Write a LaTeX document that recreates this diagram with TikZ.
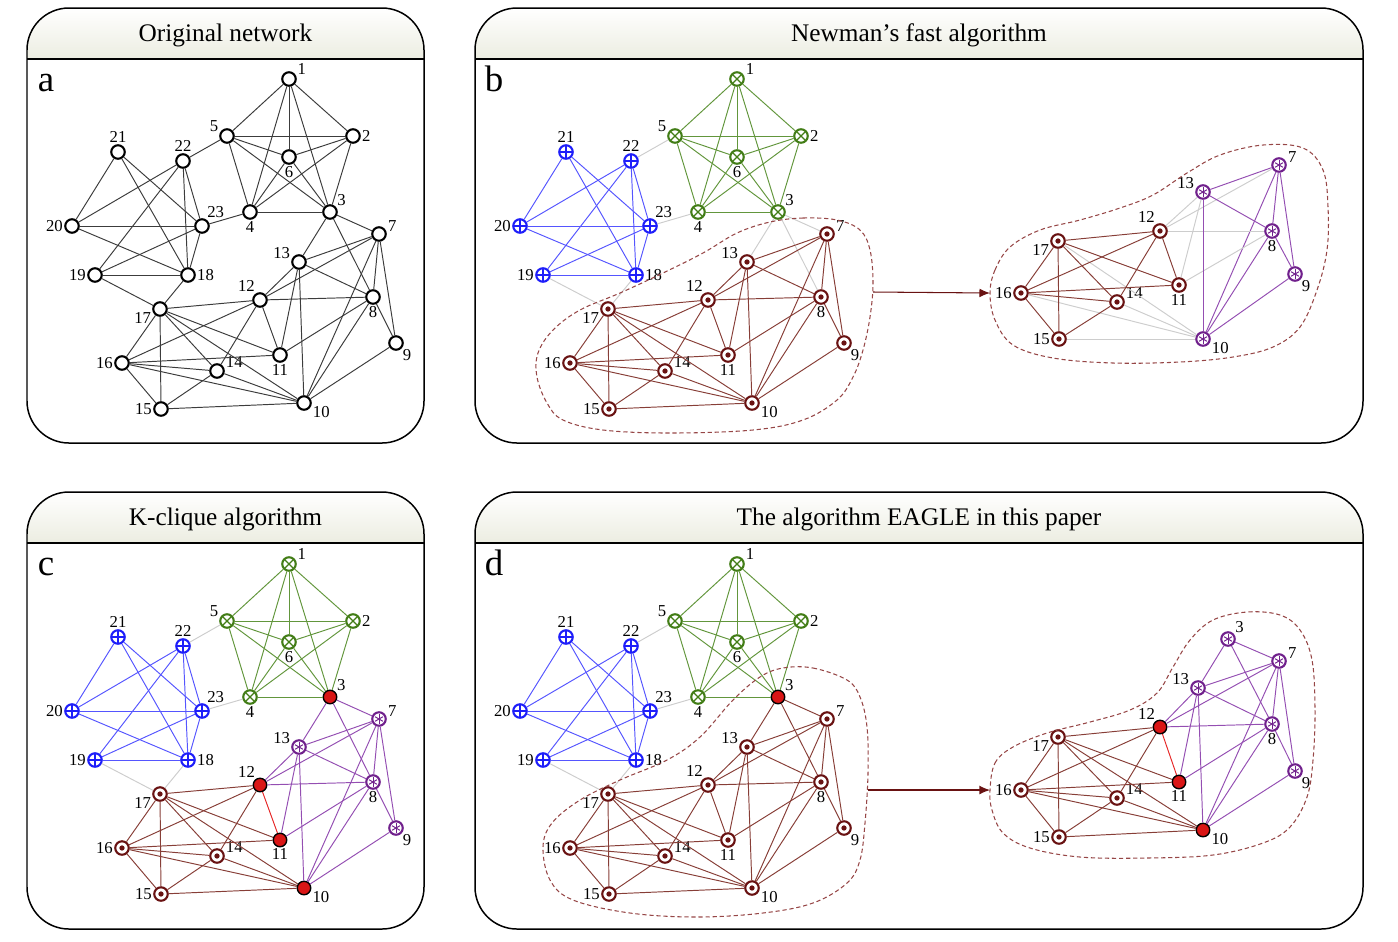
\documentclass[tikz,border=0pt]{standalone}
\usepackage{fontspec}
\setmainfont{Liberation Serif}
\usetikzlibrary{arrows.meta}

\definecolor{hdr}{RGB}{236,237,225}
\definecolor{n1}{RGB}{66,125,22}
\definecolor{n2}{RGB}{30,30,250}
\definecolor{n3}{RGB}{105,18,18}
\definecolor{n4}{RGB}{112,32,140}
\definecolor{n5}{RGB}{218,22,22}
\definecolor{e0}{RGB}{60,60,60}
\definecolor{e1}{RGB}{98,150,60}
\definecolor{e2}{RGB}{85,85,255}
\definecolor{e3}{RGB}{135,62,55}
\definecolor{e4}{RGB}{148,78,178}
\definecolor{e5}{RGB}{230,40,40}
\definecolor{e6}{RGB}{205,205,205}
\definecolor{blobc}{RGB}{150,70,70}

\begin{document}
\begin{tikzpicture}[x=0.02cm, y=-0.02cm,
    vtx/.style={circle, minimum size=0.27cm, inner sep=0pt, line width=1.2pt, fill=white, label distance=0.5pt},
    mk0/.style={vtx, draw=black, line width=1.2pt},
    mk1/.style={vtx, draw=n1, path picture={\draw[n1, line width=0.7pt] (path picture bounding box.north west) -- (path picture bounding box.south east) (path picture bounding box.north east) -- (path picture bounding box.south west);}},
    mk2/.style={vtx, draw=n2, path picture={\draw[n2, line width=0.7pt] (path picture bounding box.north) -- (path picture bounding box.south) (path picture bounding box.east) -- (path picture bounding box.west);}},
    mk3/.style={vtx, draw=n3, path picture={\fill[n3] (path picture bounding box.center) circle (1.5pt);}},
    mk4/.style={vtx, draw=n4, path picture={\foreach \q in {90,30,150} \draw[n4, line width=0.55pt] (path picture bounding box.center) ++(\q:2.6pt) -- ++(\q+180:5.2pt);}},
    mk5/.style={vtx, draw=black, fill=n5, line width=0.8pt},
    lbl/.style={font=\fontsize{9.5}{10}\selectfont, inner sep=0.6pt},
    link/.style={line width=0.55pt},
    box/.style={line width=0.85pt},
    blob/.style={blobc, dash pattern=on 2.4pt off 1.6pt, line width=0.6pt},
    ttl/.style={font=\fontsize{14.4}{16}\selectfont, anchor=base},
    letr/.style={font=\fontsize{21}{24}\selectfont, anchor=base},
    flow/.style={n3, line width=0.6pt, -{Latex[length=6pt,width=5pt]}}]
    \useasboundingbox (0,0) rectangle (1398,941);

    % Node positions: number/x/y/label angle
    \def\netpos{1/289/79/20, 2/353/136/0, 3/330/212/40, 4/250/212/-90, 5/227/136/160, 6/289/157/-90, 7/379/234/10, 8/373/297/-90, 9/396/343/-45, 10/304/403/-15, 11/280/355/-90, 12/260/300/120, 13/299/262/165, 14/217/371/15, 15/161/409/180, 16/122/363/180, 17/160/309/195, 18/188/275/0, 19/95/275/180, 20/72/226/180, 21/118/152/90, 22/183/161/90, 23/202/226/60}
    \def\subposb{7/1279/165/10, 8/1272/231/-90, 9/1295/274/-45, 10/1203/339/-15, 11/1179/285/-90, 12/1160/231/120, 13/1203/192/165, 14/1117/302/15, 15/1059/339/180, 16/1021/293/180, 17/1058/241/195}
    \def\subposd{3/1228/639/40, 7/1279/661/10, 8/1272/724/-90, 9/1295/771/-45, 10/1203/830/-15, 11/1179/782/-90, 12/1160/727/120, 13/1198/688/165, 14/1117/798/15, 15/1059/837/180, 16/1021/790/180, 17/1058/737/195}

    % Edges
    \def\edgesleft{1/2,1/3,1/4,1/5,1/6,2/3,2/4,2/5,2/6,3/4,3/5,3/6,4/5,4/6,5/6,18/19,18/20,18/21,18/22,18/23,19/22,19/23,20/21,20/22,20/23,21/23,22/23,5/22,4/23,17/18,17/19}
    \def\edgesmid{3/7,3/13,3/8}
    \def\edgesright{7/8,7/9,7/10,7/12,7/13,8/9,8/10,8/11,8/12,8/13,9/10,10/13,10/14,10/15,10/16,10/17,11/12,11/13,11/16,11/17,12/13,12/14,12/16,12/17,14/15,14/16,14/17,15/16,15/17,16/17}

    % Communities: 0 none, 1 green, 2 blue, 3 brown, 4 purple, 5 overlap
    \def\comma{{0,0,0,0,0,0,0,0,0,0,0,0,0,0,0,0,0,0,0,0,0,0,0}}
    \def\commb{{1,1,1,1,1,1,3,3,3,3,3,3,3,3,3,3,3,2,2,2,2,2,2}}
    \def\commbs{{0,0,0,0,0,0,4,4,4,4,3,3,4,3,3,3,3,0,0,0,0,0,0}}
    \def\commc{{1,1,5,1,1,1,4,4,4,5,5,5,4,3,3,3,3,2,2,2,2,2,2}}
    \def\commd{{1,1,5,1,1,1,3,3,3,3,3,3,3,3,3,3,3,2,2,2,2,2,2}}
    \def\commds{{0,0,4,0,0,0,4,4,4,5,5,5,4,3,3,3,3,0,0,0,0,0,0}}

    \newcommand\drawnodes[5]{%
        \foreach \n/\x/\y/\la in #5 {
            \pgfmathtruncatemacro\cn{#4[\n-1]}
            \node[mk\cn, label={[lbl]\la:\n}] (#1\n) at (\x+#2,\y+#3) {};
        }}
    \newcommand\drawedges[3]{%
        \foreach \ea/\eb in #3 {
            \pgfmathtruncatemacro\ca{#2[\ea-1]}
            \pgfmathtruncatemacro\cb{#2[\eb-1]}
            \pgfmathtruncatemacro\ce{\ca==\cb ? \ca : (\ca==5 ? \cb : (\cb==5 ? \ca : 6))}
            \draw[link, draw=e\ce] (#1\ea) -- (#1\eb);
        }}

    % Panel frames and titles
    \foreach \xa/\ya/\xb/\yb/\ttl/\pl in {27/8/424/443/Original network/a, 475/8/1363/443/Newman’s fast algorithm/b, 27/492/424/929/K-clique algorithm/c, 475/492/1363/929/The algorithm EAGLE in this paper/d} {
        \begin{scope}
            \clip[rounded corners=0.84cm] (\xa,\ya) rectangle (\xb,\yb);
            \shade[top color=white, middle color=hdr, bottom color=hdr] (\xa,\ya) rectangle (\xb,\ya+51);
        \end{scope}
        \draw[box, rounded corners=0.84cm] (\xa,\ya) rectangle (\xb,\yb);
        \draw[box] (\xa,\ya+51) -- (\xb,\ya+51);
        \node[ttl] (t\pl) at ({(\xa+\xb)/2},\ya+33) {\ttl};
        \node[letr] (l\pl) at (\xa+19,\ya+83) {\pl};
    }

    % a: original network
    \drawnodes{a}{0}{0}{\comma}{\netpos}
    \drawedges{a}{\comma}{\edgesleft}
    \drawedges{a}{\comma}{\edgesmid}
    \drawedges{a}{\comma}{\edgesright}

    % b: Newman's fast algorithm
    \drawnodes{b}{448}{0}{\commb}{\netpos}
    \drawedges{b}{\commb}{\edgesleft}
    \drawedges{b}{\commb}{\edgesmid}
    \drawedges{b}{\commb}{\edgesright}
    \drawnodes{bs}{0}{0}{\commbs}{\subposb}
    \drawedges{bs}{\commbs}{\edgesright}
    \draw[blob] plot[smooth cycle, tension=0.6] coordinates {(770,222) (803,218) (837,220) (860,230) (870,250) (873,283) (870,317) (863,350) (853,377) (837,400) (803,420) (753,430) (670,433) (603,430) (563,420) (547,403) (537,377) (538,353) (553,330) (580,310) (620,293) (663,273) (703,253) (737,233)};
    \draw[blob] plot[smooth cycle, tension=0.6] coordinates {(990,293) (995,270) (1010,247) (1040,230) (1080,220) (1120,208) (1153,195) (1187,173) (1220,155) (1263,145) (1303,148) (1323,170) (1328,207) (1327,250) (1317,290) (1300,327) (1273,347) (1233,357) (1180,362) (1113,363) (1053,358) (1013,345) (995,320)};
    \coordinate (bout) at (873,292);
    \coordinate (bin) at (990,293);
    \draw[flow] (bout) -- (bin);

    % c: K-clique algorithm
    \drawnodes{c}{0}{485}{\commc}{\netpos}
    \drawedges{c}{\commc}{\edgesleft}
    \drawedges{c}{\commc}{\edgesmid}
    \drawedges{c}{\commc}{\edgesright}

    % d: EAGLE
    \drawnodes{d}{448}{485}{\commd}{\netpos}
    \drawedges{d}{\commd}{\edgesleft}
    \drawedges{d}{\commd}{\edgesmid}
    \drawedges{d}{\commd}{\edgesright}
    \drawnodes{ds}{0}{0}{\commds}{\subposd}
    \drawedges{ds}{\commds}{\edgesmid}
    \drawedges{ds}{\commds}{\edgesright}
    \draw[blob] plot[smooth cycle, tension=0.6] coordinates {(783,668) (813,668) (847,680) (860,697) (867,727) (868,773) (865,823) (860,860) (847,883) (813,903) (763,913) (697,917) (630,913) (573,900) (550,880) (543,847) (552,823) (580,800) (620,780) (667,760) (700,737) (733,700) (760,677)};
    \draw[blob] plot[smooth cycle, tension=0.6] coordinates {(990,790) (995,763) (1013,747) (1047,733) (1090,722) (1130,710) (1157,693) (1173,667) (1190,640) (1213,620) (1247,612) (1280,615) (1300,630) (1312,660) (1315,710) (1313,760) (1307,797) (1290,827) (1263,843) (1213,855) (1147,858) (1080,857) (1030,848) (1003,833) (992,810)};
    \coordinate (dout) at (868,790);
    \coordinate (din) at (990,790);
    \draw[flow] (dout) -- (din);
\end{tikzpicture}
\end{document}
